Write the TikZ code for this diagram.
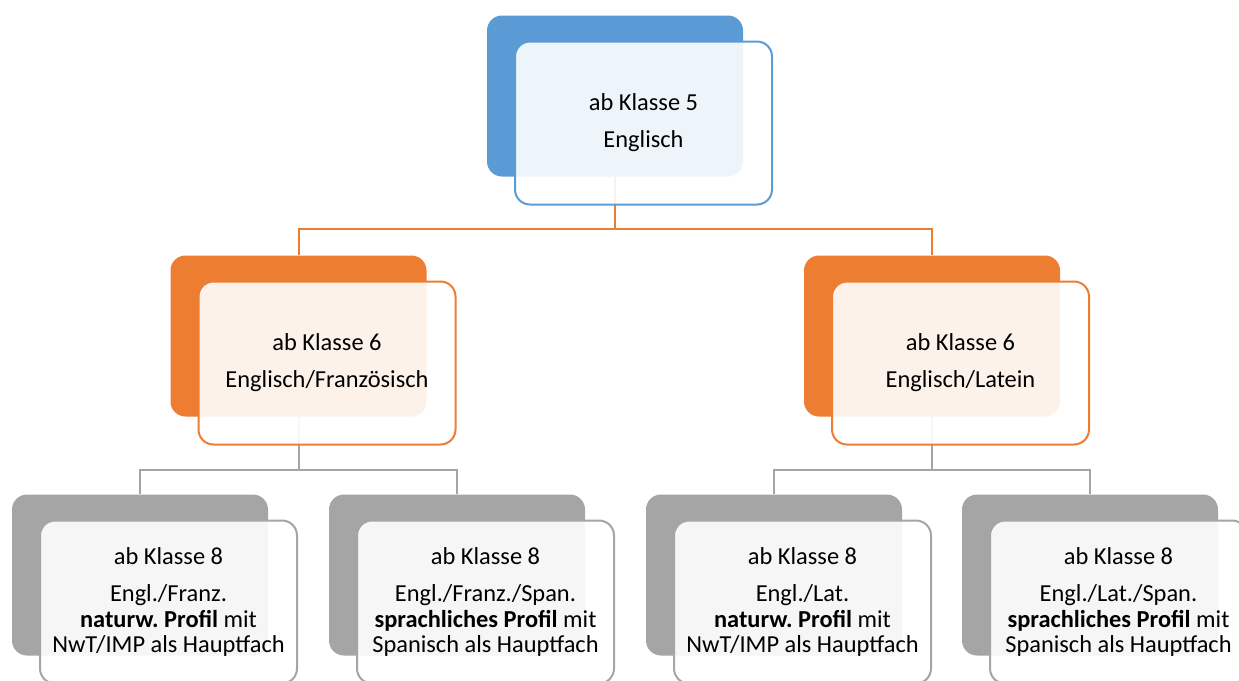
\documentclass[tikz,border=0pt]{standalone}
\usepackage{fontspec}
\setmainfont{Carlito}
\frenchspacing
\usetikzlibrary{positioning}
\definecolor{tblue}{HTML}{5B9BD5}
\definecolor{torange}{HTML}{ED7D31}
\definecolor{tgray}{HTML}{A5A5A5}

\begin{document}
\begin{tikzpicture}[
  x=0.5pt, y=-0.5pt,
  back/.style={
    rectangle, rounded corners=7.5pt, fill=#1,
    minimum width=128pt, minimum height=80.5pt, inner sep=0pt,
    },
  front/.style={
    rectangle, rounded corners=7.5pt, draw=#1, line width=1pt,
    fill=white, fill opacity=0.9, text opacity=1,
    minimum width=128.5pt, minimum height=81.5pt, inner sep=0pt,
    align=center, font=\fontsize{12.2}{12.6}\selectfont,
    },
  link/.style={draw=#1, line width=1pt},
  ]
  \useasboundingbox (0,0) rectangle (1239,681);
  \clip (0,0) rectangle (1239,681);

  % back boxes
  \node[back=tblue] (5bg) at (615,96) {};
  \node[back=torange] (6abg) at (298.5,336) {};
  \node[back=torange] (6bbg) at (932,336) {};
  \node[back=tgray] (8abg) at (140,575) {};
  \node[back=tgray] (8bbg) at (457,575) {};
  \node[back=tgray] (8cbg) at (774,575) {};
  \node[back=tgray] (8dbg) at (1090,575) {};

  % connectors
  \draw[link=torange]
    (5bg.south) -- ++(0,52) -| (6abg.north);
  \draw[link=torange]
    (5bg.south) -- ++(0,52) -| (6bbg.north);
  \draw[link=tgray]
    (6abg.south) -- ++(0,53) -| (8abg.north);
  \draw[link=tgray]
    (6abg.south) -- ++(0,53) -| (8bbg.north);
  \draw[link=tgray]
    (6bbg.south) -- ++(0,53) -| (8cbg.north);
  \draw[link=tgray]
    (6bbg.south) -- ++(0,53) -| (8dbg.north);

  % front boxes
  \node[front=tblue] (5fg)
    at ([xshift=14.25pt,yshift=-13.5pt]5bg.center)
    {ab Klasse 5\\[6pt]Englisch};
  \node[front=torange] (6afg)
    at ([xshift=14.25pt,yshift=-13.5pt]6abg.center)
    {ab Klasse 6\\[6pt]Englisch/Französisch};
  \node[front=torange] (6bfg)
    at ([xshift=14.25pt,yshift=-13.5pt]6bbg.center)
    {ab Klasse 6\\[6pt]Englisch/Latein};
  \node[front=tgray] (8afg)
    at ([xshift=14.25pt,yshift=-13.5pt]8abg.center)
    {ab Klasse 8\\[6pt]Engl./Franz.\\\textbf{naturw. Profil} mit\\NwT/IMP als Hauptfach};
  \node[front=tgray] (8bfg)
    at ([xshift=14.25pt,yshift=-13.5pt]8bbg.center)
    {ab Klasse 8\\[6pt]Engl./Franz./Span.\\\textbf{sprachliches Profil} mit\\Spanisch als Hauptfach};
  \node[front=tgray] (8cfg)
    at ([xshift=14.25pt,yshift=-13.5pt]8cbg.center)
    {ab Klasse 8\\[6pt]Engl./Lat.\\\textbf{naturw. Profil} mit\\NwT/IMP als Hauptfach};
  \node[front=tgray] (8dfg)
    at ([xshift=14.25pt,yshift=-13.5pt]8dbg.center)
    {ab Klasse 8\\[6pt]Engl./Lat./Span.\\\textbf{sprachliches Profil} mit\\Spanisch als Hauptfach};
\end{tikzpicture}
\end{document}
